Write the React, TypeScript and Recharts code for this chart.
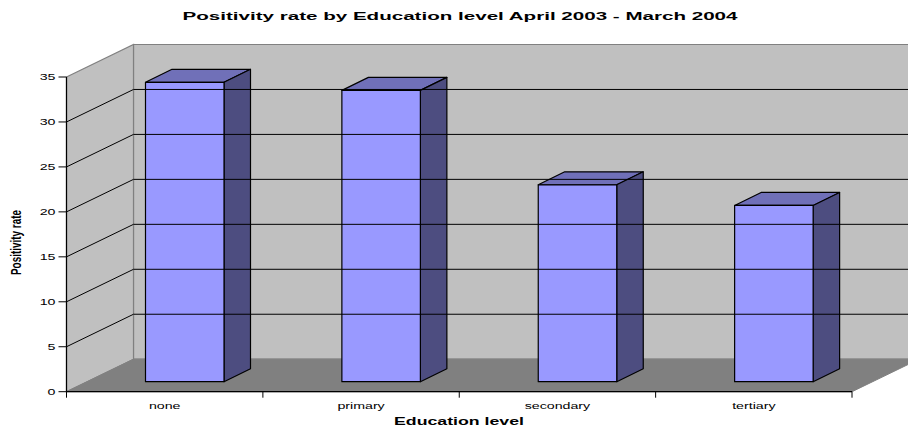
import React from "react";
import { ComposedChart, XAxis, YAxis, Bar, ReferenceArea, ReferenceLine } from "recharts";

const categories = ["none", "primary", "secondary", "tertiary"];
const positivity = [33.3, 32.4, 21.9, 19.6];
const yTicks = [0, 5, 10, 15, 20, 25, 30, 35];
const gridValues = [5, 10, 15, 20, 25, 30];

const data = categories.map((level, i) => ({ level, rate: positivity[i] }));

const FONT = "'Liberation Sans', Arial, sans-serif";
const WIDTH = 908;
const HEIGHT = 427;
const LEFT = 66.5;
const RIGHT = 852;
const TOP = 77;
const BOTTOM = 391.7;
const BAND = (RIGHT - LEFT) / categories.length;
// The small labels are set in a horizontally stretched face.
const STRETCH = 1.58;

// Projection of the chart box: how far the back wall sits from the front plane.
const DEPTH_X = 67;
const DEPTH_Y = 32.5;
// Bars stand part way into the floor and have their own shallower depth.
const BAR_SHIFT_X = 20;
const BAR_SHIFT_Y = 10;
const BAR_DEPTH_X = 26.5;
const BAR_DEPTH_Y = 13;

const pts = (list: number[][]) => list.map((p) => p.join(",")).join(" ");

function Room(props: any) {
  const { x, y, width, height } = props;
  const r = x + width;
  const b = y + height;
  return (
    <g>
      <polygon
        points={pts([[x + DEPTH_X, y - DEPTH_Y], [r + DEPTH_X, y - DEPTH_Y], [r + DEPTH_X, b - DEPTH_Y], [x + DEPTH_X, b - DEPTH_Y]])}
        fill="#c0c0c0"
        stroke="#808080"
        strokeWidth={1.2}
      />
      <polygon
        points={pts([[x, y], [x + DEPTH_X, y - DEPTH_Y], [x + DEPTH_X, b - DEPTH_Y], [x, b]])}
        fill="#c0c0c0"
        stroke="#808080"
        strokeWidth={1.2}
      />
      <polygon
        points={pts([[x, b], [x + DEPTH_X, b - DEPTH_Y], [r + DEPTH_X, b - DEPTH_Y], [r, b]])}
        fill="#808080"
        stroke="#808080"
      />
    </g>
  );
}

function WallGridLine(props: any) {
  const { x1, x2, y1 } = props;
  return (
    <polyline
      points={pts([[x1, y1], [x1 + DEPTH_X, y1 - DEPTH_Y], [x2 + DEPTH_X, y1 - DEPTH_Y]])}
      fill="none"
      stroke="#000"
      strokeWidth={1}
    />
  );
}

function Box(props: any) {
  const { x, y, width, height } = props;
  const l = x + BAR_SHIFT_X;
  const r = l + width;
  const t = y - BAR_SHIFT_Y;
  const b = t + height;
  const stroke = { stroke: "#000", strokeWidth: 1.2, strokeLinejoin: "round" as const };
  return (
    <g>
      <polygon points={pts([[l, t], [l + BAR_DEPTH_X, t - BAR_DEPTH_Y], [r + BAR_DEPTH_X, t - BAR_DEPTH_Y], [r, t]])} fill="#7070b8" {...stroke} />
      <polygon points={pts([[r, t], [r + BAR_DEPTH_X, t - BAR_DEPTH_Y], [r + BAR_DEPTH_X, b - BAR_DEPTH_Y], [r, b]])} fill="#4d4d80" {...stroke} />
      <rect x={l} y={t} width={width} height={height} fill="#9999ff" {...stroke} />
    </g>
  );
}

function CategoryTick(props: any) {
  const { x, payload, index } = props;
  return (
    <g>
      <line x1={x - BAND / 2} x2={x - BAND / 2} y1={BOTTOM} y2={BOTTOM + 6} stroke="#000" />
      {index === categories.length - 1 && (
        <line x1={x + BAND / 2} x2={x + BAND / 2} y1={BOTTOM} y2={BOTTOM + 6} stroke="#000" />
      )}
      <text
        transform={`translate(${x} 409) scale(${STRETCH} 1)`}
        textAnchor="middle"
        fontFamily={FONT}
        fontSize={9}
        fill="#000"
      >
        {payload.value}
      </text>
    </g>
  );
}

function ValueTick(props: any) {
  const { y, payload } = props;
  return (
    <text
      transform={`translate(55.5 ${y + 3.2}) scale(${STRETCH} 1)`}
      textAnchor="end"
      fontFamily={FONT}
      fontSize={9}
      fill="#000"
    >
      {payload.value}
    </text>
  );
}

export default function App() {
  return (
    <div style={{ position: "absolute", left: 0, top: 0, width: WIDTH, height: HEIGHT, overflow: "hidden", background: "#fff" }}>
      <ComposedChart
        width={WIDTH}
        height={HEIGHT}
        data={data}
        margin={{ top: TOP, right: WIDTH - RIGHT, bottom: 0, left: 0 }}
        style={{ overflow: "hidden" }}
      >
        <XAxis
          dataKey="level"
          type="category"
          axisLine={{ stroke: "#000", strokeWidth: 1.2 }}
          tickLine={false}
          interval={0}
          tick={<CategoryTick />}
          height={HEIGHT - BOTTOM}
        />
        <YAxis
          type="number"
          domain={[0, 35]}
          ticks={yTicks}
          interval={0}
          width={LEFT}
          axisLine={{ stroke: "#000", strokeWidth: 1.2 }}
          tickLine={{ stroke: "#000" }}
          tickSize={8}
          tick={<ValueTick />}
        />
        <ReferenceArea y1={0} y2={35} shape={<Room />} ifOverflow="visible" />
        {gridValues.map((v) => (
          <ReferenceLine key={v} y={v} shape={<WallGridLine />} ifOverflow="visible" />
        ))}
        <Bar dataKey="rate" barSize={78.5} shape={<Box />} isAnimationActive={false} />
        <text x={460} y={20} textAnchor="middle" fontFamily={FONT} fontSize={11} fontWeight="bold" textLength={555} lengthAdjust="spacingAndGlyphs" fill="#000">
          Positivity rate by Education level April 2003 - March 2004
        </text>
        <text x={459} y={425} textAnchor="middle" fontFamily={FONT} fontSize={11} fontWeight="bold" textLength={130} lengthAdjust="spacingAndGlyphs" fill="#000">
          Education level
        </text>
        <text
          transform="translate(20.5 242.5) rotate(-90)"
          textAnchor="middle"
          fontFamily={FONT}
          fontSize={15}
          fontWeight="bold"
          textLength={65}
          lengthAdjust="spacingAndGlyphs"
          fill="#000"
        >
          Positivity rate
        </text>
      </ComposedChart>
    </div>
  );
}
